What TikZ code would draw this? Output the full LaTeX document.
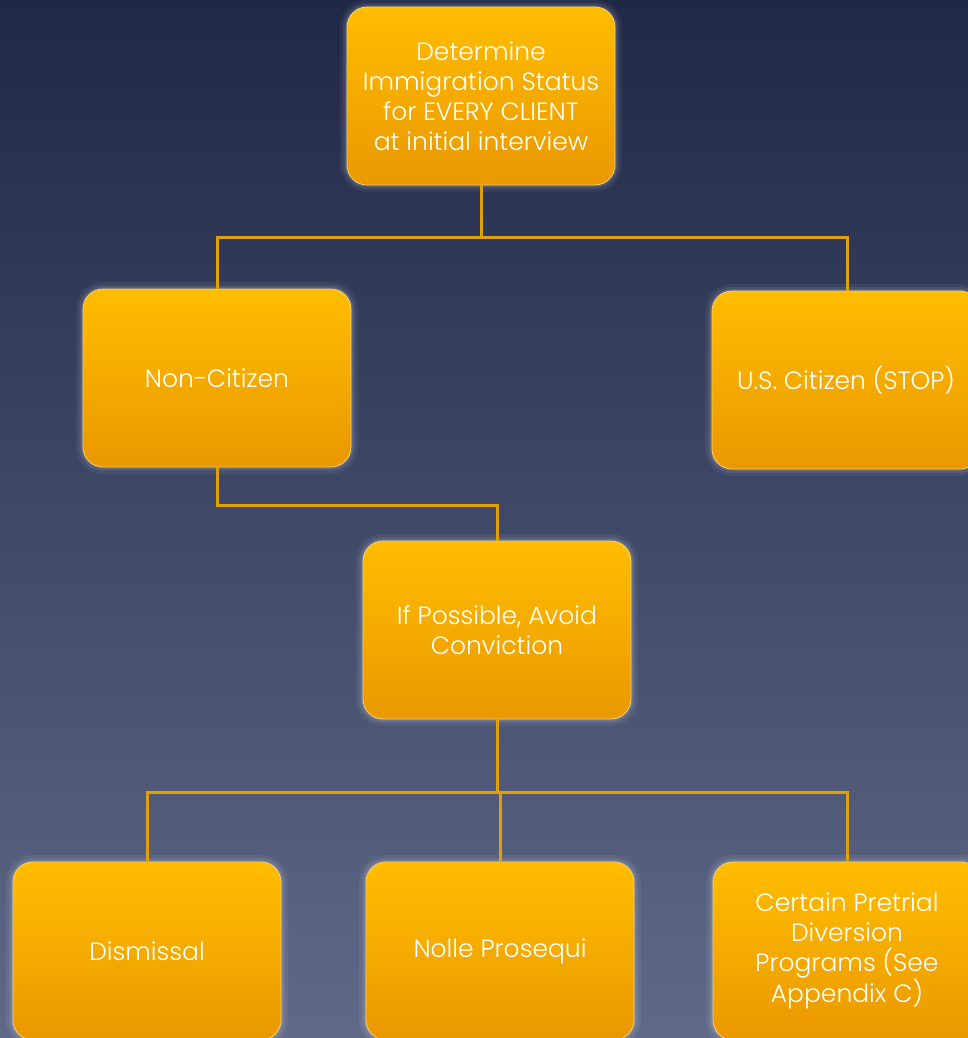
\documentclass[tikz,border=0pt]{standalone}
\usepackage{fontspec}
\setmainfont{Poppins}[UprightFont={* Light}]
\definecolor{bgtop}{HTML}{1F2846}
\definecolor{bgbot}{HTML}{606A88}
\definecolor{boxtop}{HTML}{FFBD00}
\definecolor{boxbot}{HTML}{EA9800}
\definecolor{linec}{HTML}{E0A00A}
\definecolor{rim}{HTML}{F8D070}
\tikzset{
  stepbox/.style={rectangle, rounded corners=20pt, minimum width=268pt, minimum height=178pt,
    top color=boxtop, bottom color=boxbot, draw=rim, line width=0.8pt,
    text=white, align=center, font=\fontsize{25}{30}\selectfont, inner sep=2pt,
    preaction={draw=white, draw opacity=0.05, line width=14pt},
    preaction={draw=white, draw opacity=0.07, line width=8pt},
    preaction={draw=white, draw opacity=0.10, line width=4pt}},
  conn/.style={draw=linec, line width=3pt, line cap=butt, line join=miter}
}
\begin{document}
\begin{tikzpicture}[x=1pt,y=-1pt]
\useasboundingbox (0,0) rectangle (968,1038);
\clip (0,0) rectangle (968,1038);
\shade[top color=bgtop, bottom color=bgbot] (0,0) rectangle (968,1038);
% nodes
\node[stepbox] (top) at (481,96) {Determine\\Immigration Status\\for EVERY CLIENT\\at initial interview};
\node[stepbox] (non) at (217,378) {Non-Citizen};
\node[stepbox] (us) at (846,380) {U.S. Citizen (STOP)};
\node[stepbox] (avoid) at (497,630) {If Possible, Avoid\\Conviction};
\node[stepbox] (dis) at (147,951) {Dismissal};
\node[stepbox] (nol) at (500,951) {Nolle Prosequi};
\node[stepbox] (cert) at (847,951) {Certain Pretrial\\Diversion\\Programs (See\\Appendix C)};
% connector junctions
\coordinate (j1) at (481,237);
\coordinate (jm) at (217,505);
\coordinate (j2) at (497,792);
\draw[conn] (top.south) -- (j1);
\draw[conn] (j1) -| (non.north);
\draw[conn] (j1) -| ([xshift=1pt]us.north);
\draw[conn] (non.south) -- (jm) -| (avoid.north);
\draw[conn] (avoid.south) -- (j2);
\draw[conn] (j2) -| (dis.north);
\draw[conn] (j2) -| (nol.north);
\draw[conn] (j2) -| (cert.north);
\end{tikzpicture}
\end{document}
